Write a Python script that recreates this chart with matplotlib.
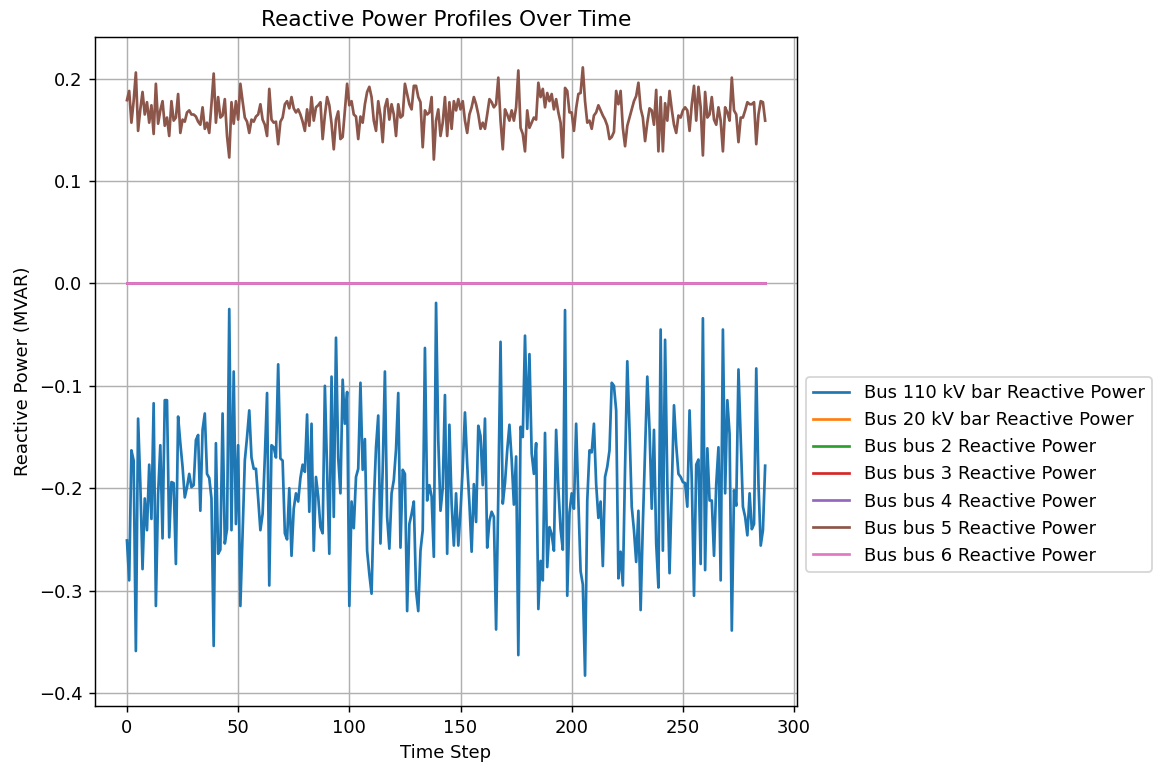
import numpy as np
import matplotlib
matplotlib.use("Agg")
import matplotlib.pyplot as plt

bus_labels = ["Bus 110 kV bar Reactive Power", "Bus 20 kV bar Reactive Power",
              "Bus bus 2 Reactive Power", "Bus bus 3 Reactive Power",
              "Bus bus 4 Reactive Power", "Bus bus 5 Reactive Power",
              "Bus bus 6 Reactive Power"]

q_110kv = [
    -0.251, -0.290, -0.163, -0.173, -0.359, -0.132, -0.195, -0.279, -0.210, -0.241,
    -0.177, -0.230, -0.117, -0.315, -0.206, -0.158, -0.249, -0.114, -0.114, -0.248,
    -0.194, -0.195, -0.274, -0.130, -0.156, -0.179, -0.209, -0.199, -0.186, -0.199,
    -0.197, -0.153, -0.148, -0.222, -0.143, -0.127, -0.186, -0.190, -0.210, -0.354,
    -0.156, -0.264, -0.260, -0.127, -0.254, -0.240, -0.025,
    -0.241, -0.086, -0.235, -0.158, -0.315, -0.245, -0.173, -0.150, -0.124, -0.170,
    -0.181, -0.181, -0.210, -0.241, -0.225, -0.170, -0.107, -0.295, -0.158, -0.160,
    -0.170, -0.079, -0.171, -0.173, -0.244, -0.250, -0.200, -0.266, -0.220, -0.205,
    -0.213, -0.190, -0.177, -0.184, -0.128, -0.223, -0.137, -0.261, -0.189, -0.208,
    -0.238, -0.244, -0.100, -0.182, -0.264, -0.091, -0.228, -0.053,
    -0.170, -0.205, -0.094, -0.137, -0.106, -0.315,
    -0.213, -0.239, -0.189, -0.181, -0.097, -0.182, -0.152, -0.261, -0.284, -0.303,
    -0.215, -0.160, -0.129, -0.254, -0.182, -0.086, -0.228, -0.259, -0.205, -0.192,
    -0.162, -0.107, -0.258, -0.182, -0.186, -0.320, -0.235, -0.225, -0.213, -0.300,
    -0.320, -0.261, -0.241, -0.063, -0.212, -0.197, -0.208, -0.267, -0.019, -0.153,
    -0.222, -0.200, -0.109, -0.264, -0.138,
    -0.215, -0.256, -0.205, -0.256, -0.222, -0.180, -0.126, -0.176, -0.215, -0.262,
    -0.196, -0.233, -0.139, -0.149, -0.197, -0.132, -0.258, -0.232, -0.223, -0.228,
    -0.338, -0.205, -0.057, -0.215, -0.195, -0.163, -0.138, -0.172, -0.216, -0.169,
    -0.363, -0.140, -0.150, -0.051, -0.142, -0.069, -0.166, -0.186, -0.156, -0.318,
    -0.271, -0.290, -0.146, -0.277, -0.238, -0.245, -0.261,
    -0.143,
    -0.200, -0.240, -0.260, -0.026,
    -0.305, -0.224, -0.205, -0.220, -0.137, -0.212, -0.281, -0.294, -0.383,
    -0.212, -0.163, -0.165, -0.137, -0.196, -0.229, -0.213, -0.276, -0.189, -0.179,
    -0.163, -0.097, -0.100, -0.124, -0.288, -0.262, -0.295, -0.180, -0.076, -0.143,
    -0.218, -0.241, -0.272, -0.222, -0.319, -0.235, -0.163, -0.091, -0.143, -0.220,
    -0.143, -0.254, -0.297, -0.045, -0.261, -0.055, -0.195, -0.283,
    -0.200, -0.119, -0.158, -0.186, -0.189, -0.194, -0.195, -0.218, -0.124, -0.192,
    -0.305, -0.177, -0.172, -0.274, -0.034, -0.280, -0.161, -0.212, -0.212, -0.266,
    -0.196, -0.160, -0.290, -0.045, -0.205, -0.114, -0.147, -0.339, -0.202, -0.217,
    -0.084, -0.150, -0.218, -0.228, -0.246, -0.205, -0.240, -0.235, -0.083, -0.196,
    -0.256, -0.241, -0.178,
]

q_bus5 = [
    0.179, 0.188, 0.157, 0.178, 0.206, 0.149, 0.170, 0.187, 0.165, 0.177,
    0.157, 0.174, 0.146, 0.195, 0.156, 0.169, 0.178, 0.154, 0.162, 0.144,
    0.178, 0.159, 0.162, 0.185, 0.147, 0.160, 0.158, 0.167, 0.169, 0.165,
    0.165, 0.163, 0.158, 0.155, 0.172, 0.151, 0.157, 0.147, 0.175, 0.205,
    0.157, 0.182, 0.162, 0.164, 0.180, 0.144, 0.123,
    0.177, 0.156, 0.178, 0.160, 0.195, 0.178, 0.162, 0.158, 0.147, 0.160,
    0.158, 0.163, 0.165, 0.175, 0.160, 0.155, 0.144, 0.190, 0.160, 0.157,
    0.158, 0.136, 0.158, 0.162, 0.175, 0.178, 0.171, 0.182, 0.171, 0.167,
    0.170, 0.165, 0.158, 0.149, 0.170, 0.154, 0.182, 0.159, 0.172, 0.174,
    0.177, 0.141, 0.164, 0.182, 0.174, 0.156, 0.131, 0.160, 0.168,
    0.141, 0.143, 0.169, 0.195, 0.174, 0.178, 0.165, 0.163, 0.141, 0.163,
    0.157, 0.175, 0.187, 0.192, 0.182, 0.159, 0.149, 0.178, 0.164, 0.138,
    0.172, 0.180, 0.160, 0.175, 0.165, 0.144, 0.175, 0.162, 0.164, 0.195,
    0.185, 0.175, 0.170, 0.193, 0.193, 0.182, 0.177, 0.133, 0.169, 0.165,
    0.167, 0.182, 0.121, 0.159, 0.170, 0.144, 0.157, 0.182, 0.144, 0.177,
    0.151, 0.178, 0.169, 0.180, 0.170, 0.178, 0.159, 0.147, 0.165, 0.172,
    0.182, 0.175, 0.165, 0.151, 0.157, 0.151, 0.165, 0.180, 0.177, 0.172,
    0.175, 0.201, 0.159, 0.131, 0.170, 0.165, 0.159, 0.169, 0.159, 0.172,
    0.208, 0.152, 0.146, 0.129, 0.169, 0.152, 0.157, 0.162, 0.160, 0.196,
    0.182, 0.190, 0.172, 0.186, 0.178, 0.185, 0.170, 0.180, 0.167,
    0.157, 0.123, 0.191, 0.188, 0.167, 0.167, 0.149, 0.171, 0.185, 0.186,
    0.211, 0.178, 0.157, 0.159, 0.151, 0.164, 0.167, 0.174, 0.169, 0.164,
    0.160, 0.154, 0.141, 0.143, 0.148, 0.188, 0.175, 0.188, 0.152, 0.134,
    0.154, 0.162, 0.170, 0.178, 0.183, 0.196, 0.171, 0.162, 0.139, 0.157,
    0.171, 0.169, 0.155, 0.189, 0.129, 0.182, 0.129, 0.176, 0.159, 0.188,
    0.170, 0.155, 0.147, 0.164, 0.162, 0.169, 0.172, 0.169, 0.149, 0.175,
    0.193, 0.159, 0.192, 0.172, 0.125, 0.187, 0.162, 0.165, 0.182, 0.160,
    0.155, 0.172, 0.159, 0.129, 0.172, 0.167, 0.159, 0.201, 0.169, 0.165,
    0.138, 0.162, 0.162, 0.169, 0.177, 0.175, 0.175, 0.177, 0.136, 0.165,
    0.178, 0.177, 0.159,
]

n_steps = len(q_110kv)
zero_q = [0.0] * n_steps  # 20 kV bar, bus 2, 3, 4, 6 carry no reactive power

series = [q_110kv, zero_q, zero_q, zero_q, zero_q, q_bus5, zero_q]
time_steps = np.arange(n_steps)

fig = plt.figure(figsize=(1155 / 130, 764 / 130), dpi=130)
ax = fig.add_axes([0.0823, 0.0759, 0.6078, 0.8757])
for vals, lab in zip(series, bus_labels):
    ax.plot(time_steps, vals, label=lab)

ax.set_title("Reactive Power Profiles Over Time")
ax.set_xlabel("Time Step")
ax.set_ylabel("Reactive Power (MVAR)")
ax.grid(True)
ax.legend(loc="upper left", bbox_to_anchor=(1.0, 0.505), fontsize=10)
fig.savefig("out.png", dpi=130)
